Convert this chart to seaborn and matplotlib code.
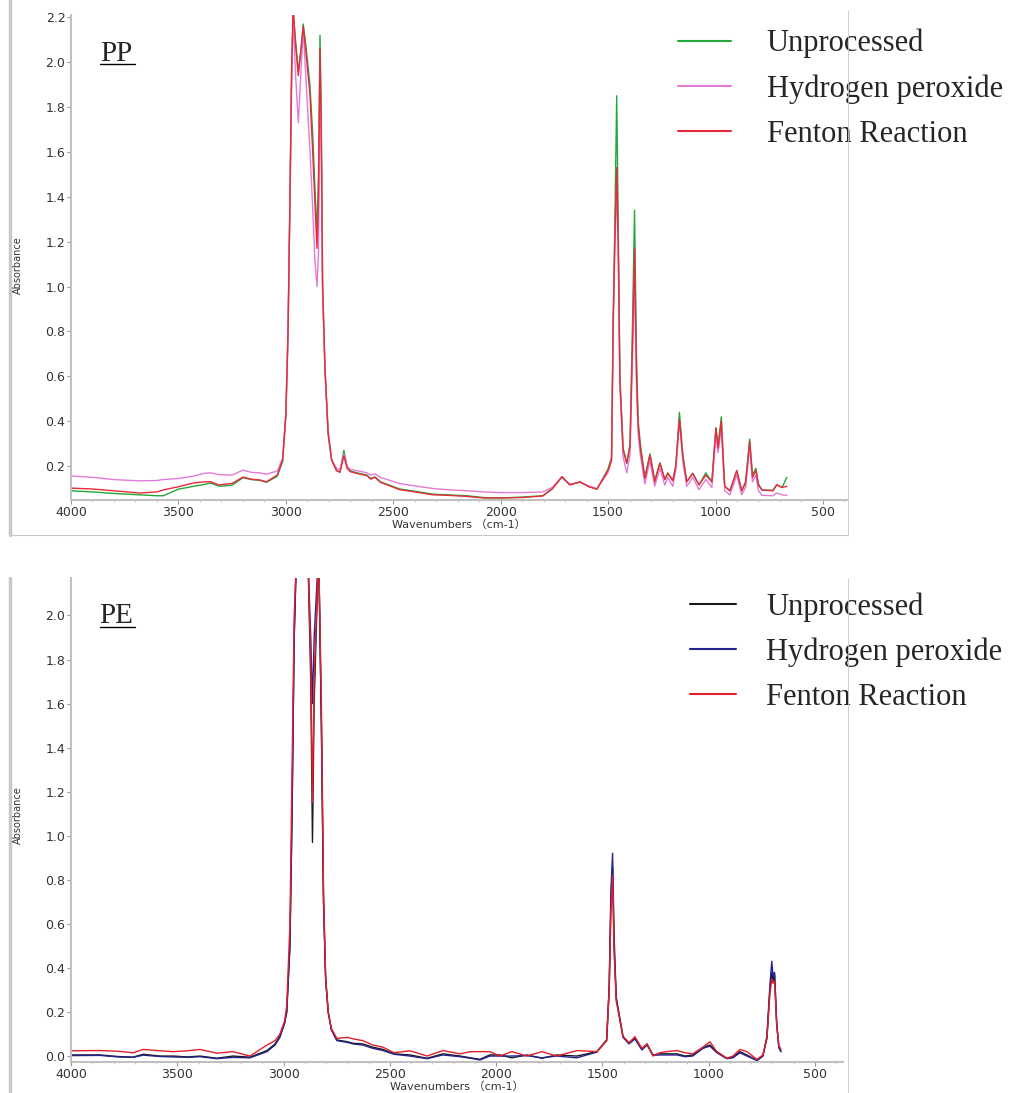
import numpy as np
import pandas as pd
import matplotlib
matplotlib.use("Agg")
import matplotlib.pyplot as plt
import seaborn as sns
from matplotlib.lines import Line2D
from matplotlib.ticker import MultipleLocator

# PP spectra (wavenumber cm-1, absorbance)
wn_pp = [
    4000, 3900, 3800, 3680, 3600, 3570, 3500, 3430, 3380, 3350,
    3310, 3250, 3200, 3160, 3120, 3090, 3040, 3015, 3000, 2990,
    2981, 2973, 2966, 2955, 2942, 2930, 2919, 2905, 2888, 2875,
    2865, 2855, 2848, 2841, 2835, 2829, 2818, 2803, 2787, 2764,
    2748, 2730, 2715, 2700, 2660, 2623, 2605, 2585, 2560, 2470,
    2400, 2315, 2250, 2157, 2080, 2004, 1900, 1804, 1760, 1715,
    1678, 1631, 1590, 1552, 1501, 1484, 1476, 1469, 1460, 1453,
    1445, 1430, 1413, 1398, 1385, 1377, 1368, 1360, 1350, 1329,
    1305, 1283, 1259, 1236, 1222, 1199, 1185, 1168, 1152, 1134,
    1106, 1077, 1045, 1017, 998, 988, 973, 962, 957, 933,
    901, 878, 860, 841, 828, 812, 800, 784, 733, 715,
    690, 668,
]
pp_unprocessed = [
    0.090, 0.085, 0.078, 0.072, 0.068, 0.068, 0.097, 0.110, 0.118, 0.125,
    0.110, 0.115, 0.148, 0.140, 0.136, 0.128, 0.155, 0.220, 0.420, 0.780,
    1.380, 1.960, 2.220, 2.100, 1.960, 2.050, 2.170, 2.060, 1.900, 1.680,
    1.450, 1.230, 1.500, 2.120, 1.750, 1.010, 0.640, 0.345, 0.227, 0.180,
    0.175, 0.270, 0.200, 0.178, 0.168, 0.160, 0.145, 0.152, 0.130, 0.098,
    0.088, 0.075, 0.072, 0.068, 0.060, 0.058, 0.062, 0.068, 0.100, 0.150,
    0.118, 0.128, 0.110, 0.098, 0.185, 0.240, 0.880, 1.250, 1.850, 1.300,
    0.600, 0.280, 0.213, 0.300, 0.900, 1.340, 0.700, 0.400, 0.300, 0.150,
    0.255, 0.135, 0.215, 0.140, 0.170, 0.135, 0.200, 0.440, 0.250, 0.130,
    0.168, 0.116, 0.170, 0.130, 0.370, 0.290, 0.420, 0.200, 0.110, 0.090,
    0.180, 0.090, 0.130, 0.320, 0.160, 0.190, 0.120, 0.094, 0.092, 0.118,
    0.105, 0.150,
]
pp_h2o2 = [
    0.156, 0.150, 0.140, 0.134, 0.136, 0.140, 0.145, 0.155, 0.168, 0.170,
    0.162, 0.160, 0.182, 0.172, 0.170, 0.164, 0.178, 0.235, 0.430, 0.790,
    1.380, 1.950, 2.200, 1.950, 1.730, 1.950, 2.150, 1.900, 1.610, 1.350,
    1.120, 1.000, 1.150, 1.950, 1.600, 0.980, 0.630, 0.350, 0.230, 0.190,
    0.185, 0.255, 0.200, 0.185, 0.178, 0.170, 0.160, 0.165, 0.150, 0.122,
    0.112, 0.100, 0.095, 0.090, 0.085, 0.082, 0.082, 0.085, 0.105, 0.152,
    0.118, 0.130, 0.112, 0.100, 0.170, 0.225, 0.820, 1.150, 1.450, 1.150,
    0.550, 0.240, 0.170, 0.250, 0.750, 1.050, 0.560, 0.340, 0.250, 0.120,
    0.225, 0.110, 0.190, 0.115, 0.150, 0.110, 0.180, 0.400, 0.220, 0.110,
    0.150, 0.095, 0.140, 0.105, 0.340, 0.260, 0.370, 0.170, 0.090, 0.072,
    0.160, 0.072, 0.105, 0.290, 0.130, 0.160, 0.090, 0.070, 0.068, 0.080,
    0.072, 0.070,
]
pp_fenton = [
    0.102, 0.098, 0.090, 0.080, 0.085, 0.094, 0.108, 0.125, 0.130, 0.130,
    0.116, 0.123, 0.151, 0.142, 0.138, 0.130, 0.160, 0.227, 0.430, 0.790,
    1.380, 1.970, 2.250, 2.080, 1.940, 2.050, 2.160, 2.030, 1.860, 1.600,
    1.380, 1.170, 1.400, 2.060, 1.700, 1.010, 0.640, 0.345, 0.227, 0.180,
    0.172, 0.245, 0.190, 0.175, 0.165, 0.158, 0.142, 0.150, 0.128, 0.095,
    0.085, 0.072, 0.070, 0.065, 0.058, 0.058, 0.060, 0.067, 0.098, 0.153,
    0.116, 0.130, 0.108, 0.097, 0.180, 0.227, 0.860, 1.190, 1.530, 1.200,
    0.580, 0.270, 0.213, 0.290, 0.800, 1.170, 0.620, 0.380, 0.280, 0.145,
    0.250, 0.130, 0.213, 0.140, 0.168, 0.135, 0.200, 0.410, 0.240, 0.130,
    0.168, 0.116, 0.160, 0.130, 0.370, 0.280, 0.400, 0.190, 0.110, 0.090,
    0.180, 0.090, 0.125, 0.310, 0.150, 0.180, 0.115, 0.094, 0.090, 0.116,
    0.105, 0.110,
]

# PE spectra
wn_pe = [
    4000, 3864, 3780, 3708, 3661, 3581, 3520, 3450, 3393, 3314,
    3238, 3158, 3078, 3040, 3017, 2995, 2985, 2970, 2960, 2950,
    2940, 2917, 2900, 2885, 2872, 2864, 2856, 2835, 2822, 2812,
    2802, 2790, 2775, 2749, 2700, 2673, 2627, 2580, 2532, 2480,
    2405, 2325, 2250, 2170, 2120, 2076, 2030, 1982, 1926, 1855,
    1785, 1715, 1620, 1526, 1480, 1468, 1460, 1452, 1445, 1435,
    1427, 1403, 1375, 1347, 1314, 1290, 1262, 1230, 1197, 1150,
    1110, 1075, 1027, 994, 962, 915, 886, 853, 820, 773,
    745, 726, 712, 703, 697, 690, 680, 670, 660,
]
pe_unprocessed = [
    0.005, 0.005, -0.002, -0.005, 0.008, 0.000, 0.000, -0.004, 0.000, -0.010,
    0.000, -0.005, 0.025, 0.055, 0.090, 0.150, 0.200, 0.500, 1.100, 1.900,
    2.250, 2.300, 2.250, 2.250, 1.700, 0.970, 1.600, 2.300, 1.500, 0.700,
    0.350, 0.200, 0.120, 0.073, 0.065, 0.058, 0.055, 0.040, 0.030, 0.010,
    0.005, -0.010, 0.010, 0.000, -0.008, -0.015, 0.005, 0.005, -0.008, 0.005,
    -0.010, 0.005, 0.000, 0.020, 0.070, 0.300, 0.700, 0.860, 0.500, 0.260,
    0.220, 0.088, 0.060, 0.080, 0.030, 0.055, 0.005, 0.010, 0.010, 0.010,
    0.000, 0.005, 0.040, 0.050, 0.020, -0.010, -0.005, 0.020, 0.005, -0.020,
    0.000, 0.080, 0.300, 0.380, 0.340, 0.370, 0.150, 0.040, 0.020,
]
pe_h2o2 = [
    0.002, 0.003, -0.004, -0.006, 0.004, -0.002, -0.004, -0.006, -0.003, -0.012,
    -0.006, -0.008, 0.020, 0.050, 0.085, 0.150, 0.200, 0.500, 1.100, 1.900,
    2.250, 2.300, 2.250, 2.250, 1.900, 1.600, 1.900, 2.300, 1.500, 0.700,
    0.350, 0.200, 0.120, 0.070, 0.062, 0.055, 0.050, 0.035, 0.025, 0.008,
    0.000, -0.012, 0.005, -0.003, -0.010, -0.018, 0.000, 0.000, 0.000, 0.002,
    -0.008, 0.000, -0.008, 0.018, 0.075, 0.320, 0.750, 0.920, 0.550, 0.270,
    0.220, 0.085, 0.055, 0.078, 0.028, 0.050, 0.003, 0.005, 0.005, 0.005,
    -0.003, 0.000, 0.035, 0.045, 0.015, -0.012, -0.008, 0.015, 0.000, -0.020,
    0.000, 0.090, 0.320, 0.430, 0.360, 0.380, 0.150, 0.040, 0.020,
]
pe_fenton = [
    0.024, 0.025, 0.022, 0.015, 0.030, 0.024, 0.020, 0.024, 0.030, 0.013,
    0.020, 0.000, 0.050, 0.070, 0.100, 0.160, 0.230, 0.600, 1.300, 2.000,
    2.250, 2.300, 2.250, 2.250, 1.800, 1.150, 1.700, 2.300, 1.600, 0.750,
    0.360, 0.200, 0.125, 0.080, 0.085, 0.078, 0.070, 0.050, 0.040, 0.015,
    0.024, 0.000, 0.025, 0.010, 0.020, 0.020, 0.020, 0.000, 0.020, 0.000,
    0.020, 0.000, 0.025, 0.020, 0.070, 0.300, 0.650, 0.820, 0.480, 0.250,
    0.210, 0.090, 0.060, 0.088, 0.035, 0.055, 0.000, 0.015, 0.020, 0.025,
    0.015, 0.010, 0.040, 0.065, 0.020, -0.010, 0.000, 0.030, 0.020, -0.015,
    0.005, 0.080, 0.280, 0.350, 0.330, 0.340, 0.140, 0.050, 0.030,
]

labels = ["Unprocessed", "Hydrogen peroxide", "Fenton Reaction"]
pp_colors = ["#22a83a", "#e27ad8", "#ea2a3a"]
pe_colors = ["#1a1a1a", "#23238e", "#e3202a"]

W, H = 1009, 1093
sns.set_style("ticks")
plt.rcParams["font.family"] = ["DejaVu Sans", "Noto Sans CJK JP"]

fig = plt.figure(figsize=(W / 100, H / 100), dpi=100)


def px_axes(left, top, right, bottom):
    return fig.add_axes([left / W, 1 - bottom / H, (right - left) / W, (bottom - top) / H])


def draw_panel(ax, wn, series, colors, xlim, ylim, tag, leg_anchor, hlen, hpad):
    frames = [pd.DataFrame({"wavenumber": wn, "absorbance": vals, "treatment": name})
              for name, vals in zip(labels, series)]
    df = pd.concat(frames, ignore_index=True)
    sns.lineplot(data=df, x="wavenumber", y="absorbance", hue="treatment",
                 hue_order=labels, palette=colors, estimator=None, sort=False,
                 linewidth=1.0, ax=ax)
    ax.set_xlim(*xlim)
    ax.set_ylim(*ylim)
    ax.xaxis.set_major_locator(MultipleLocator(500))
    ax.xaxis.set_minor_locator(MultipleLocator(100))
    ax.yaxis.set_major_locator(MultipleLocator(0.2))
    ax.yaxis.set_minor_locator(MultipleLocator(0.04))
    ax.set_ylabel("")
    ax.set_xlabel("Wavenumbers （cm-1）", fontsize=8, color="#333333")
    ax.xaxis.set_label_coords(0.5, -0.04)
    ax.tick_params(axis="both", which="major", labelsize=9, length=3,
                   color="#999999", labelcolor="#333333", pad=1)
    ax.tick_params(axis="both", which="minor", length=1.5, color="#bbbbbb")
    for s in ["top", "right"]:
        ax.spines[s].set_visible(False)
    ax.spines["left"].set_color("#c0c0c0")
    ax.spines["left"].set_linewidth(1.5)
    ax.spines["bottom"].set_color("#c0c0c0")
    ax.spines["bottom"].set_linewidth(1.5)

    # panel tag, underlined
    ax.text(0.037, 0.906, tag, transform=ax.transAxes, fontsize=21,
            family="Liberation Serif", va="baseline", ha="left")
    ax.add_line(Line2D([0.037, 0.083], [0.898, 0.898], transform=ax.transAxes,
                       color="black", lw=1.0))

    handles, labs = ax.get_legend_handles_labels()
    leg = ax.legend(handles=handles, labels=labs, loc="upper left",
                    bbox_to_anchor=leg_anchor, bbox_transform=fig.transFigure,
                    frameon=False, prop={"family": "Liberation Serif", "size": 22},
                    handlelength=hlen, handletextpad=hpad, labelspacing=0.52,
                    borderpad=0, borderaxespad=0)
    for line in leg.get_lines():
        line.set_linewidth(1.5)


ax1 = px_axes(71, 15, 847, 500)
draw_panel(ax1, wn_pp, [pp_unprocessed, pp_h2o2, pp_fenton], pp_colors,
           (4000, 388), (0.049, 2.21), "PP", (678 / W, 1 - 29 / H), 1.75, 1.15)

ax2 = px_axes(71, 578, 843, 1062)
draw_panel(ax2, wn_pe, [pe_unprocessed, pe_h2o2, pe_fenton], pe_colors,
           (4000, 368), (-0.027, 2.17), "PE", (690 / W, 1 - 592 / H), 1.5, 1.0)

# y axis titles
fig.text(18 / W, 1 - 265 / H, "Absorbance", rotation=90, fontsize=7,
         color="#333333", ha="center", va="center")
fig.text(18 / W, 1 - 815 / H, "Absorbance", rotation=90, fontsize=7,
         color="#333333", ha="center", va="center")

# window frames around each panel
frame_kw = dict(transform=fig.transFigure, color="#c8c8c8")
fig.add_artist(Line2D([10 / W, 10 / W], [1, 1 - 535 / H], lw=2.5, **frame_kw))
fig.add_artist(Line2D([10 / W, 848 / W], [1 - 535 / H, 1 - 535 / H], lw=0.8, **frame_kw))
fig.add_artist(Line2D([848 / W, 848 / W], [1 - 10 / H, 1 - 535 / H], lw=0.6, **frame_kw))
fig.add_artist(Line2D([10 / W, 10 / W], [1 - 578 / H, 0], lw=2.5, **frame_kw))
fig.add_artist(Line2D([848 / W, 848 / W], [1 - 578 / H, 0], lw=0.6, **frame_kw))

fig.savefig("out.png", dpi=100)
